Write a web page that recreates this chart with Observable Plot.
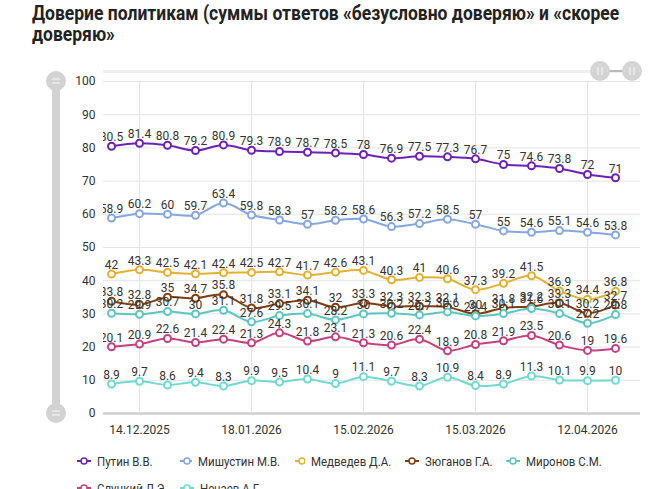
<!DOCTYPE html>
<html>
<head>
<meta charset="utf-8">
<script src="https://cdn.jsdelivr.net/npm/d3@7"></script>
<script src="https://cdn.jsdelivr.net/npm/@observablehq/plot@0.6"></script>
<style>
  html, body { margin: 0; padding: 0; background: #fff; }
  body { width: 656px; height: 489px; overflow: hidden; font-family: Roboto, "Noto Sans", sans-serif; }
  #title { height: 60px; box-sizing: border-box; padding: 3px 0 0 32px; font-weight: 700; font-size: 20px; line-height: 21px; color: #222; white-space: nowrap; }
  #title span { display: inline-block; transform: scaleX(0.875); transform-origin: 0 0; }
  #legend { display: grid; grid-template-columns: 103px 115px 110px 101px 120px; row-gap: 11px; padding-left: 77px; margin-top: 8px; font-size: 13.5px; color: #333; }
  .item { display: flex; align-items: center; gap: 6px; height: 16px; white-space: nowrap; }
  .item span { display: inline-block; transform: scaleX(0.85); transform-origin: 0 50%; }
  svg.plot { display: block; }
</style>
</head>
<body>
<div id="title"><span>Доверие политикам (суммы ответов «безусловно доверяю» и «скорее</span><br><span>доверяю»</span></div>
<div id="chart"></div>
<div id="legend"></div>
<script>
const dates = ["07.12.2025","14.12.2025","21.12.2025","28.12.2025","11.01.2026","18.01.2026","25.01.2026","01.02.2026","08.02.2026","15.02.2026","22.02.2026","01.03.2026","08.03.2026","15.03.2026","22.03.2026","29.03.2026","05.04.2026","12.04.2026","19.04.2026"];
const tickDates = ["14.12.2025","18.01.2026","15.02.2026","15.03.2026","12.04.2026"];
const yTicks = [0,10,20,30,40,50,60,70,80,90,100];

const names = ["Путин В.В.","Мишустин М.В.","Медведев Д.А.","Зюганов Г.А.","Миронов С.М.","Слуцкий Л.Э.","Нечаев А.Г."];
const colors = ["#6c22b6","#86a7de","#e2b130","#813d0e","#5dc6c0","#c5407f","#6fdacd"];

const putin     = [80.5,81.4,80.8,79.2,80.9,79.3,78.9,78.7,78.5,78,76.9,77.5,77.3,76.7,75,74.6,73.8,72,71];
const mishustin = [58.9,60.2,60,59.7,63.4,59.8,58.3,57,58.2,58.6,56.3,57.2,58.5,57,55,54.6,55.1,54.6,53.8];
const medvedev  = [42,43.3,42.5,42.1,42.4,42.5,42.7,41.7,42.6,43.1,40.3,41,40.6,37.3,39.2,41.5,36.9,34.4,36.8];
const zyuganov  = [33.8,32.8,35,34.7,35.8,31.8,33.1,34.1,32,33.3,32.3,32.3,32.1,30,31.8,32.2,33.3,30.2,32.7];
const mironov   = [30.2,29.9,30.7,30,31.1,27.6,29.5,30.1,28.2,30,30.2,29.7,30.6,29.4,30.1,31.6,30.1,27.2,29.8];
const slutsky   = [20.1,20.9,22.6,21.4,22.4,21.3,24.3,21.8,23.1,21.3,20.6,22.4,18.9,20.8,21.9,23.5,20.6,19,19.6];
const nechaev   = [8.9,9.7,8.6,9.4,8.3,9.9,9.5,10.4,9,11.1,9.7,8.3,10.9,8.4,8.9,11.3,10.1,9.9,10];

const seriesValues = [putin, mishustin, medvedev, zyuganov, mironov, slutsky, nechaev];
const labelFont = "Roboto, 'Noto Sans', sans-serif";

const seriesMarks = [];
seriesValues.forEach((vals, i) => {
  const data = vals.map((v, j) => ({date: dates[j], value: v}));
  seriesMarks.push(
    Plot.line(data, {x: "date", y: "value", stroke: colors[i], strokeWidth: 2, curve: "catmull-rom"}),
    Plot.dot(data, {x: "date", y: "value", r: 3.5, fill: "white", stroke: colors[i], strokeWidth: 2})
  );
});
seriesValues.forEach((vals, i) => {
  const data = vals.map((v, j) => ({date: dates[j], value: v}));
  seriesMarks.push(
    Plot.text(data, {x: "date", y: "value", text: d => String(d.value), dy: -9, fill: "#333", fontSize: 12, clip: "frame"})
  );
});

const plot = Plot.plot({
  width: 656,
  height: 385,
  marginTop: 21,
  marginBottom: 32,
  marginLeft: 103,
  marginRight: 16,
  style: {fontFamily: labelFont, fontSize: "12px", color: "#333", background: "white", overflow: "visible"},
  x: {type: "point", domain: dates, padding: 0, insetLeft: 4, insetRight: 22},
  y: {domain: [0, 100]},
  marks: [
    Plot.ruleY(yTicks.filter(d => d > 0), {stroke: "#e4e4e4", strokeWidth: 1}),
    Plot.ruleX(tickDates, {y1: 0, y2: 100, stroke: "#e4e4e4", strokeWidth: 1}),
    Plot.ruleY([0], {stroke: "#cfcfcf", strokeWidth: 2.5}),
    Plot.axisY({ticks: yTicks, tickSize: 0, tickPadding: 8, label: null, fontSize: 12}),
    Plot.axisX({ticks: tickDates, tickSize: 0, tickPadding: 12, label: null, fontSize: 12}),
    ...seriesMarks
  ]
});
document.getElementById("chart").appendChild(plot);

// navigator decorations
const svg = d3.select(plot);
const ys = plot.scale("y");
const y100 = ys.apply(100), y0 = ys.apply(0);
const deco = svg.insert("g", ":first-child");
deco.append("line").attr("x1", 103).attr("x2", 632).attr("y1", y100 - 9.5).attr("y2", y100 - 9.5).attr("stroke", "#efefef").attr("stroke-width", 3);
deco.append("rect").attr("x", 52).attr("y", y100).attr("width", 8).attr("height", y0 - y100).attr("fill", "#d2d2d2");
[y100, y0].forEach(cy => {
  deco.append("circle").attr("cx", 56).attr("cy", cy).attr("r", 10).attr("fill", "#d2d2d2");
  [-2, 2].forEach(o => deco.append("line").attr("x1", 52).attr("x2", 60).attr("y1", cy + o).attr("y2", cy + o).attr("stroke", "#f2f2f2").attr("stroke-width", 1.2));
});
const hy = y100 - 10;
deco.append("line").attr("x1", 600).attr("x2", 632).attr("y1", hy).attr("y2", hy).attr("stroke", "#aaa").attr("stroke-width", 1.5);
[600, 632].forEach(cx => {
  deco.append("circle").attr("cx", cx).attr("cy", hy).attr("r", 10).attr("fill", "#d4d4d4");
  [-2, 2].forEach(o => deco.append("line").attr("x1", cx + o).attr("x2", cx + o).attr("y1", hy - 4).attr("y2", hy + 4).attr("stroke", "#f2f2f2").attr("stroke-width", 1.2));
});

// legend
const legend = d3.select("#legend");
names.forEach((n, i) => {
  const it = legend.append("div").attr("class", "item");
  const s = it.append("svg").attr("width", 14).attr("height", 10);
  s.append("line").attr("x1", 0).attr("x2", 14).attr("y1", 5).attr("y2", 5).attr("stroke", colors[i]).attr("stroke-width", 2);
  s.append("circle").attr("cx", 7).attr("cy", 5).attr("r", 3).attr("fill", "white").attr("stroke", colors[i]).attr("stroke-width", 1.5);
  it.append("span").text(n);
});
</script>
</body>
</html>
